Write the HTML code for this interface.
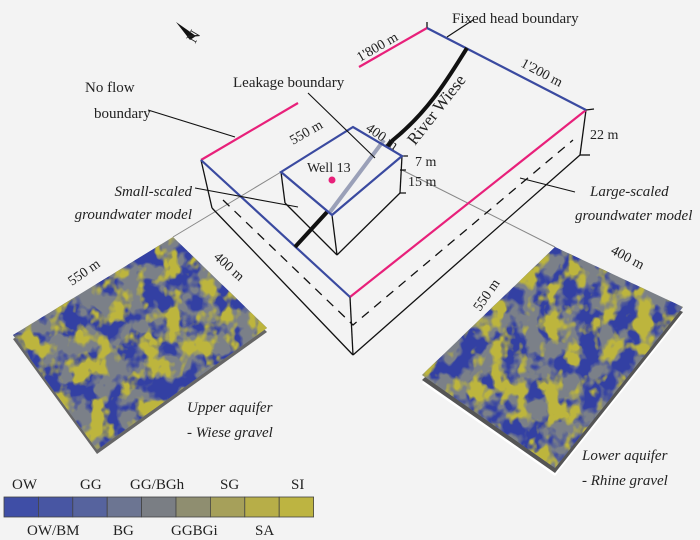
<!DOCTYPE html>
<html><head><style>
html,body{margin:0;padding:0;background:#f3f3f3;}
svg{display:block;}
text{font-family:"Liberation Serif",serif;fill:#222;}
.it{font-style:italic;}
</style></head><body>
<svg width="700" height="540" viewBox="0 0 700 540" xmlns="http://www.w3.org/2000/svg">
<defs>
<filter id="y1" x="0" y="0" width="1" height="1" color-interpolation-filters="sRGB">
<feTurbulence type="fractalNoise" baseFrequency="0.055 0.045" numOctaves="3" seed="4"/>
<feColorMatrix type="matrix" values="0 0 0 0 0.74  0 0 0 0 0.71  0 0 0 0 0.24  7 0 0 0 -3.5"/>
<feComposite in2="SourceGraphic" operator="in"/>
</filter>
<filter id="b1" x="0" y="0" width="1" height="1" color-interpolation-filters="sRGB">
<feTurbulence type="fractalNoise" baseFrequency="0.05 0.045" numOctaves="3" seed="11"/>
<feColorMatrix type="matrix" values="0 0 0 0 0.20  0 0 0 0 0.25  0 0 0 0 0.64  7 0 0 0 -3.1"/>
<feComposite in2="SourceGraphic" operator="in"/>
</filter>
</defs>
<rect width="700" height="540" fill="#f3f3f3"/>

<line x1="281" y1="172" x2="173" y2="237" stroke="#888" stroke-width="1"/>
<line x1="402" y1="170" x2="555" y2="247" stroke="#888" stroke-width="1"/>

<polygon points="13,335 173,237 267,328 97,450" fill="#666" transform="translate(0,4)"/>
<polygon points="13,335 173,237 267,328 97,450" fill="#7b8088"/>
<polygon points="13,335 173,237 267,328 97,450" fill="#7b8088" filter="url(#b1)"/>
<polygon points="13,335 173,237 267,328 97,450" fill="#7b8088" filter="url(#y1)"/>

<polygon points="422,375 555,247 683,307 555,468" fill="#fff" transform="translate(0,8)"/>
<polygon points="422,375 555,247 683,307 555,468" fill="#555" transform="translate(0,5)"/>
<polygon points="422,375 555,247 683,307 555,468" fill="#7b8088"/>
<polygon points="422,375 555,247 683,307 555,468" fill="#7b8088" filter="url(#b1)"/>
<polygon points="422,375 555,247 683,307 555,468" fill="#7b8088" filter="url(#y1)"/>

<g stroke="#111" stroke-width="1.3" fill="none">
<line x1="201" y1="160" x2="212" y2="208"/>
<line x1="350" y1="297" x2="353" y2="355"/>
<line x1="586" y1="110" x2="580" y2="155"/>
<line x1="212" y1="208" x2="353" y2="355"/>
<line x1="353" y1="355" x2="580" y2="155"/>
<polyline points="223,200 353,325 573,140" stroke-dasharray="9,7"/>
<line x1="427" y1="28" x2="427" y2="22"/>
<line x1="580" y1="155" x2="590" y2="155"/>
<line x1="586" y1="110" x2="594" y2="109"/>
</g>
<line x1="201" y1="160" x2="298" y2="103" stroke="#e8207a" stroke-width="2.2"/>
<line x1="359" y1="67" x2="427" y2="28" stroke="#e8207a" stroke-width="2.2"/>
<line x1="586" y1="110" x2="350" y2="297" stroke="#e8207a" stroke-width="2.2"/>
<line x1="201" y1="160" x2="350" y2="297" stroke="#3a4aa0" stroke-width="2.2"/>
<line x1="427" y1="28" x2="586" y2="110" stroke="#3a4aa0" stroke-width="2.2"/>

<path d="M467,48 C450,75 430,110 393,140 L295,247" stroke="#111" stroke-width="4" fill="none"/>

<polygon points="281,172 353,127 402,156 332,215" fill="#f3f3f3"/>
<g stroke="#111" stroke-width="1.3" fill="none">
<line x1="281" y1="172" x2="285" y2="203"/>
<line x1="332" y1="215" x2="337" y2="255"/>
<line x1="402" y1="156" x2="400" y2="193"/>
<line x1="285" y1="203" x2="337" y2="255"/>
<line x1="337" y1="255" x2="400" y2="193"/>
<path d="M402,156 h6 M400,170 h6 M400,193 h6"/>
</g>
<path d="M384,140 L330,212" stroke="#9aa0b8" stroke-width="4"/>
<polygon points="281,172 353,127 402,156 332,215" fill="none" stroke="#3a4aa0" stroke-width="2.2"/>
<circle cx="332" cy="180" r="3.5" fill="#e8207a"/>

<g stroke="#111" stroke-width="1.1">
<line x1="473" y1="20" x2="447" y2="37"/>
<line x1="148" y1="110" x2="235" y2="137"/>
<line x1="195" y1="188" x2="298" y2="207"/>
<line x1="308" y1="93" x2="375" y2="158"/>
<line x1="575" y1="192" x2="520" y2="178"/>
</g>

<polygon points="176,22 196,36 190,40" fill="#111"/>
<text font-size="16" transform="translate(195,44) rotate(-60)">N</text>

<text x="452" y="23" font-size="15">Fixed head boundary</text>
<text font-size="14" transform="translate(360,62) rotate(-30)">1'800 m</text>
<text font-size="14" transform="translate(520,66) rotate(28)">1'200 m</text>
<text x="590" y="139" font-size="14">22 m</text>
<text x="233" y="87" font-size="15">Leakage boundary</text>
<text x="85" y="92" font-size="15">No flow</text>
<text x="94" y="118" font-size="15">boundary</text>
<text font-size="14" transform="translate(293,145) rotate(-30)">550 m</text>
<text font-size="14" transform="translate(365,130) rotate(35)">400 m</text>
<text font-size="17" transform="translate(415,146) rotate(-52)">River Wiese</text>
<text x="415" y="166" font-size="14">7 m</text>
<text x="408" y="186" font-size="14">15 m</text>
<text x="307" y="172" font-size="14">Well 13</text>
<text x="192" y="196" font-size="15" class="it" text-anchor="end">Small-scaled</text>
<text x="192" y="219" font-size="15" class="it" text-anchor="end">groundwater model</text>
<text x="590" y="196" font-size="15" class="it">Large-scaled</text>
<text x="575" y="220" font-size="15" class="it">groundwater model</text>
<text font-size="14" transform="translate(72,286) rotate(-35)">550 m</text>
<text font-size="14" transform="translate(213,258) rotate(42)">400 m</text>
<text font-size="14" transform="translate(610,253) rotate(28)">400 m</text>
<text font-size="14" transform="translate(480,312) rotate(-55)">550 m</text>
<text x="187" y="412" font-size="15" class="it">Upper aquifer</text>
<text x="187" y="437" font-size="15" class="it">- Wiese gravel</text>
<text x="582" y="460" font-size="15" class="it">Lower aquifer</text>
<text x="582" y="485" font-size="15" class="it">- Rhine gravel</text>

<g stroke="#444" stroke-width="0.8">
<rect x="4" y="497" width="34.4" height="20" fill="#3f4ea6"/>
<rect x="38.4" y="497" width="34.4" height="20" fill="#4856a3"/>
<rect x="72.8" y="497" width="34.4" height="20" fill="#56639e"/>
<rect x="107.2" y="497" width="34.4" height="20" fill="#6c7592"/>
<rect x="141.6" y="497" width="34.4" height="20" fill="#7a7e84"/>
<rect x="176" y="497" width="34.4" height="20" fill="#8f8e70"/>
<rect x="210.4" y="497" width="34.4" height="20" fill="#a6a05a"/>
<rect x="244.8" y="497" width="34.4" height="20" fill="#b7ae48"/>
<rect x="279.2" y="497" width="34.4" height="20" fill="#bdb441"/>
</g>
<g font-size="15">
<text x="12" y="489">OW</text>
<text x="80" y="489">GG</text>
<text x="130" y="489">GG/BGh</text>
<text x="220" y="489">SG</text>
<text x="291" y="489">SI</text>
<text x="27" y="535">OW/BM</text>
<text x="113" y="535">BG</text>
<text x="171" y="535">GGBGi</text>
<text x="255" y="535">SA</text>
</g>
</svg>
</body></html>
